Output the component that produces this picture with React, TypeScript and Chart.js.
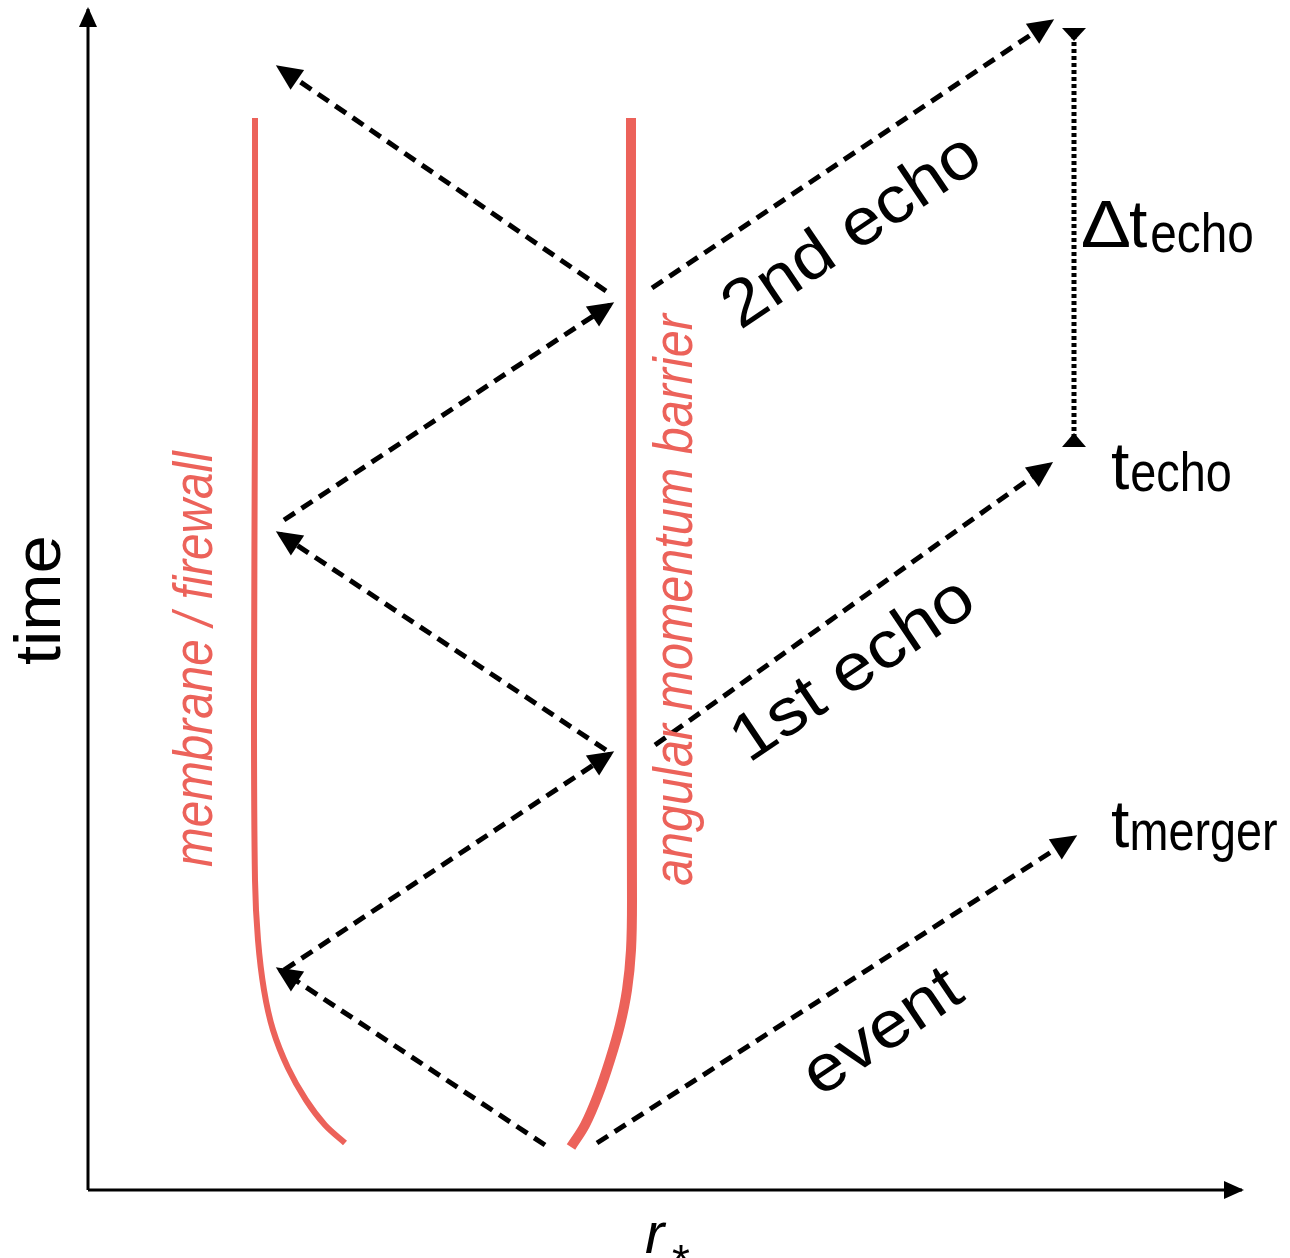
import { useEffect, useRef } from "react";
import { Chart, registerables } from "chart.js";

Chart.register(...registerables);

const FONT = '"Liberation Sans", Arial, Helvetica, sans-serif';
const RED = "rgb(236, 98, 90)";
const INK = "#000000";

// axes (r*, time) — origin at the corner of the axes
const axisR = [0, 1154];
const axisT = [0, 1181];

// membrane / firewall curve
const membraneR = [167, 167, 166, 167, 170, 176, 185, 200, 218, 237, 257];
const membraneT = [1072, 790, 490, 310, 250, 200, 160, 122, 90, 65, 47];

// angular momentum barrier curve
const barrierR = [543, 543, 544, 543, 539, 532, 522, 510, 497, 483];
const barrierT = [1072, 690, 290, 240, 200, 165, 130, 95, 65, 43];

// dashed rays: start -> arrow tip
const rayStartR = [457, 196, 518, 196, 518, 564, 567, 509];
const rayStartT = [45, 220, 440, 670, 899, 902, 445, 47];
const rayEndR = [192, 522, 192, 522, 192, 962, 961, 985];
const rayEndT = [220, 436, 656, 885, 1122, 1168, 725, 352];

// Δt_echo bracket
const bracketR = [986, 986];
const bracketT = [1162, 743];

type Label = {
  text: string;
  r: number;
  t: number;
  size: number;
  len?: number;
  angle?: number;
  anchor?: "start" | "center";
  italic?: boolean;
  color?: string;
};

const labels: Label[] = [
  { text: "time", r: -28, t: 525, size: 64, len: 127, angle: -90 },
  { text: "membrane / firewall", r: 124, t: 323, size: 56, len: 417, angle: -90, italic: true, color: RED },
  { text: "angular momentum barrier", r: 604, t: 305, size: 56, len: 573, angle: -90, italic: true, color: RED },
  { text: "2nd echo", r: 762, t: 962, size: 66, len: 290, angle: -34, anchor: "center" },
  { text: "1st echo", r: 764, t: 524, size: 66, len: 270, angle: -34, anchor: "center" },
  { text: "event", r: 794, t: 160, size: 66, len: 175, angle: -34, anchor: "center" },
  { text: "Δ", r: 994, t: 943, size: 66, len: 48 },
  { text: "t", r: 1042, t: 943, size: 66 },
  { text: "echo", r: 1064, t: 938, size: 56, len: 100 },
  { text: "t", r: 1024, t: 701, size: 66 },
  { text: "echo", r: 1044, t: 699, size: 56, len: 98 },
  { text: "t", r: 1024, t: 343, size: 66 },
  { text: "merger", r: 1044, t: 340, size: 56, len: 145 },
  { text: "r", r: 557, t: -63, size: 58, italic: true },
  { text: "*", r: 584, t: -87, size: 46 },
];

function head(
  ctx: CanvasRenderingContext2D,
  x0: number,
  y0: number,
  x1: number,
  y1: number,
  len: number,
  half: number,
  offset: number
) {
  const dx = x1 - x0;
  const dy = y1 - y0;
  const n = Math.hypot(dx, dy) || 1;
  const ux = dx / n;
  const uy = dy / n;
  const tx = x1 + ux * offset;
  const ty = y1 + uy * offset;
  const bx = tx - ux * len;
  const by = ty - uy * len;
  ctx.beginPath();
  ctx.moveTo(tx, ty);
  ctx.lineTo(bx - uy * half, by + ux * half);
  ctx.lineTo(bx + uy * half, by - ux * half);
  ctx.closePath();
  ctx.fill();
}

const overlay = {
  id: "overlay",
  afterDatasetsDraw(chart: any) {
    const ctx: CanvasRenderingContext2D = chart.ctx;
    const xs = chart.scales.x;
    const ys = chart.scales.y;
    const px = (r: number) => xs.getPixelForValue(r);
    const py = (t: number) => ys.getPixelForValue(t);
    ctx.save();
    ctx.fillStyle = INK;
    // axis heads
    head(ctx, px(0), py(0), px(axisR[1]), py(0), 20, 9, 2);
    head(ctx, px(0), py(0), px(0), py(axisT[1]), 20, 9, 2);
    // ray heads
    for (let i = 0; i < rayStartR.length; i++) {
      head(ctx, px(rayStartR[i]), py(rayStartT[i]), px(rayEndR[i]), py(rayEndT[i]), 26, 12, 5);
    }
    // bracket heads (pointing inwards)
    const bx = px(bracketR[0]);
    const yTop = py(bracketT[0]);
    const yBot = py(bracketT[1]);
    head(ctx, bx, yTop - 1, bx, yTop + 13, 13, 12, 0);
    head(ctx, bx, yBot + 1, bx, yBot - 14, 14, 12, 0);

    // labels
    for (const l of labels) {
      ctx.save();
      ctx.font = `${l.italic ? "italic " : ""}${l.size}px ${FONT}`;
      ctx.fillStyle = l.color || INK;
      ctx.textAlign = "left";
      ctx.textBaseline = "alphabetic";
      const m = ctx.measureText(l.text);
      const abl = m.actualBoundingBoxLeft;
      const abr = m.actualBoundingBoxRight;
      const aba = m.actualBoundingBoxAscent;
      const abd = m.actualBoundingBoxDescent;
      const inkW = abl + abr;
      const s = l.len ? l.len / inkW : 1;
      ctx.translate(px(l.r), py(l.t));
      if (l.angle) ctx.rotate((l.angle * Math.PI) / 180);
      ctx.scale(s, 1);
      if (l.anchor === "center") {
        ctx.fillText(l.text, -(abr - abl) / 2, (aba - abd) / 2);
      } else {
        ctx.fillText(l.text, abl, 0);
      }
      ctx.restore();
    }
    ctx.restore();
  },
};

export default function App() {
  const ref = useRef<HTMLCanvasElement | null>(null);
  useEffect(() => {
    if (!ref.current) return;
    const pts = (rs: number[], ts: number[]) => rs.map((r, i) => ({ x: r, y: ts[i] }));
    const base = { showLine: true, pointRadius: 0, fill: false };
    const rays = rayStartR.map((_, i) => ({
      ...base,
      data: [
        { x: rayStartR[i], y: rayStartT[i] },
        { x: rayEndR[i], y: rayEndT[i] },
      ],
      borderColor: INK,
      borderWidth: 5,
      borderDash: [13, 8],
    }));
    const chart = new Chart(ref.current, {
      type: "scatter",
      data: {
        datasets: [
          { ...base, data: [{ x: axisR[0], y: 0 }, { x: axisR[1], y: 0 }], borderColor: INK, borderWidth: 3 },
          { ...base, data: [{ x: 0, y: axisT[0] }, { x: 0, y: axisT[1] }], borderColor: INK, borderWidth: 3 },
          { ...base, data: pts(membraneR, membraneT), borderColor: RED, borderWidth: 6, tension: 0.35 },
          { ...base, data: pts(barrierR, barrierT), borderColor: RED, borderWidth: 10, tension: 0.35 },
          ...rays,
          { ...base, data: pts(bracketR, bracketT), borderColor: INK, borderWidth: 5, borderDash: [4, 3] },
        ] as any,
      },
      options: {
        responsive: false,
        animation: false,
        events: [],
        layout: { padding: 0 },
        plugins: { legend: { display: false }, tooltip: { enabled: false } },
        scales: {
          x: { type: "linear", min: -88, max: 1202, display: false },
          y: { type: "linear", min: -68, max: 1190, display: false },
        },
      },
      plugins: [overlay],
    });
    return () => chart.destroy();
  }, []);
  return (
    <div style={{ position: "absolute", left: 0, top: 0, width: 1290, height: 1258, background: "#fff" }}>
      <canvas ref={ref} width={1290} height={1258} style={{ display: "block", width: 1290, height: 1258 }} />
    </div>
  );
}
